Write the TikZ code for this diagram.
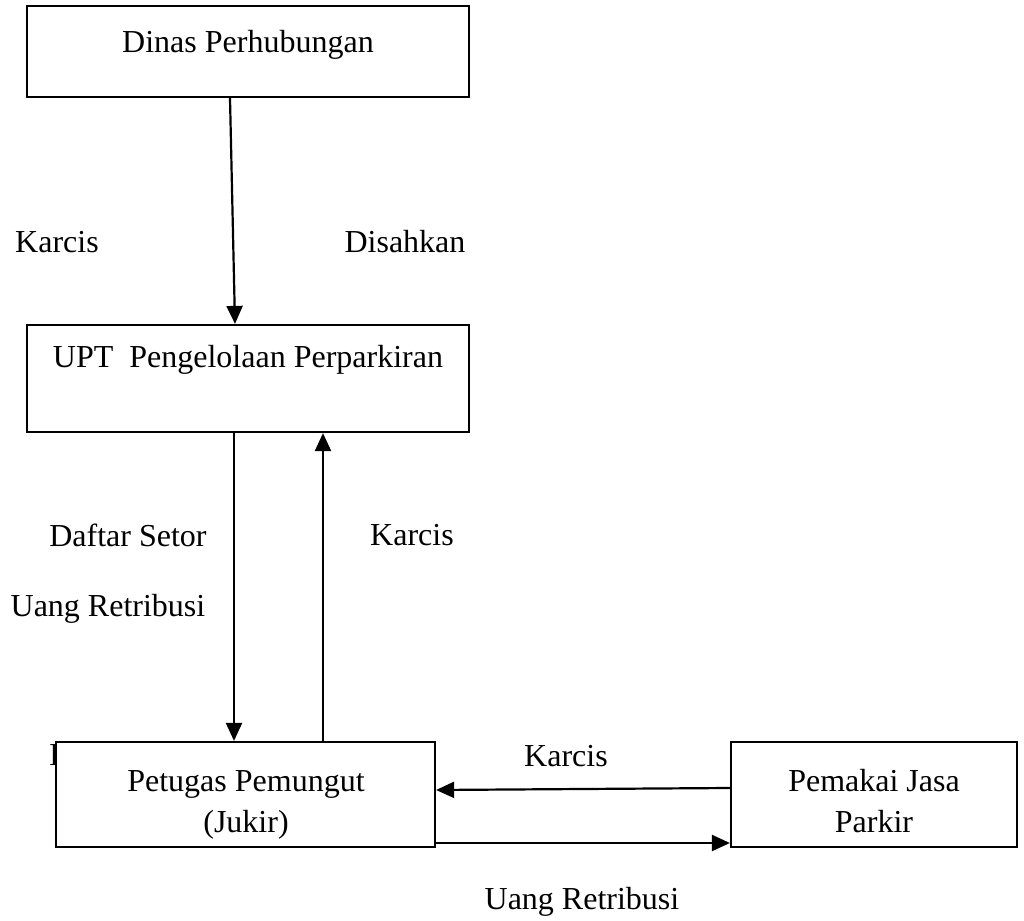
\documentclass[tikz,border=0pt]{standalone}
\usepackage{fontspec}
\setmainfont{Liberation Serif}
\usetikzlibrary{arrows.meta}
\definecolor{ink}{RGB}{0,0,0}

\begin{document}
\begin{tikzpicture}[
  x=0.5pt, y=-0.5pt,
  unit/.style={draw=ink, fill=white, line width=1.1pt, minimum width=#1,
               inner sep=0pt},
  txt/.style={font=\fontsize{16}{20.5}\selectfont, text=ink, align=center,
              inner sep=0pt},
  flow/.style={-{Triangle[length=9pt, width=8pt]}, draw=ink, line width=1.1pt}]
  \useasboundingbox (0,0) rectangle (1024,921);

  % --- leftover glyph peeking out behind the Jukir box
  \node[txt, anchor=base west] (stray) at (49,765) {D};

  % --- boxes, top to bottom
  \node[unit=221pt, minimum height=45.5pt] (dis) at (248, 51.5) {};
  \node[unit=221pt, minimum height=53.5pt] (upt) at (248,378.5) {};
  \node[unit=189.5pt, minimum height=52.5pt] (pet) at (245.5,794.5) {};
  \node[unit=143pt, minimum height=52.5pt] (pem) at (874,794.5) {};

  \node[txt] (disT) at (248, 45) {Dinas Perhubungan};
  \node[txt] (uptT) at (248,360) {UPT\ \ Pengelolaan Perparkiran};
  \node[txt] (petT) at (246,805) {Petugas Pemungut\\(Jukir)};
  \node[txt] (pemT) at (874,801) {Pemakai Jasa\\Parkir};

  % --- connectors
  \draw[flow] (dis.south -| 230,0) -- (upt.north -| 235,0);
  \draw[flow] (upt.south -| 234,0) -- (pet.north -| 234,0);
  \draw[flow] (pet.north -| 323,0) -- (upt.south -| 323,0);
  \draw[flow] (pem.west |- 0,788) -- (pet.east |- 0,790);
  \draw[flow] (pet.east |- 0,843) -- (pem.west |- 0,843);

  % --- labels on the flows
  \node[txt] (k1) at ( 57,242) {Karcis};
  \node[txt] (ds) at (405,242) {Disahkan};
  \node[txt] (dt) at (128,535) {Daftar Setor};
  \node[txt] (k2) at (412,535) {Karcis};
  \node[txt] (ur1) at (108,609) {Uang Retribusi};
  \node[txt] (k3) at (566,756) {Karcis};
  \node[txt] (ur2) at (582,902) {Uang Retribusi};
\end{tikzpicture}
\end{document}
